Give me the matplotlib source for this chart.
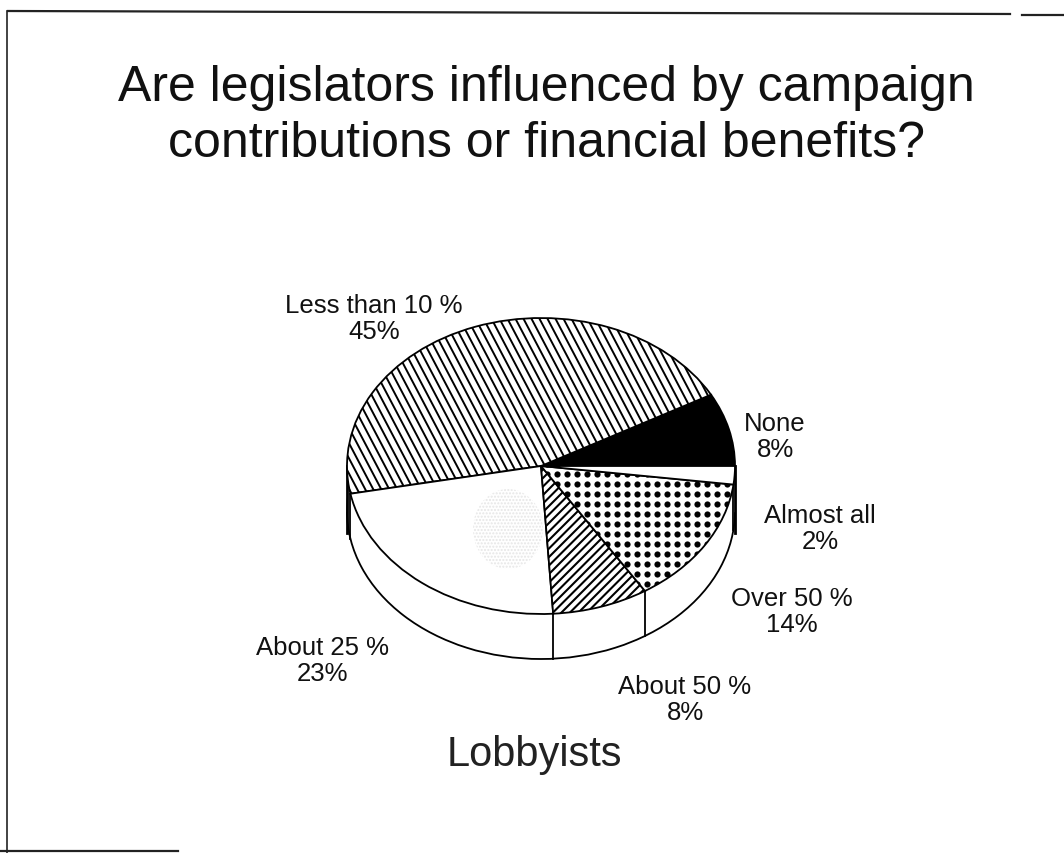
import numpy as np
import matplotlib
matplotlib.use('Agg')
import matplotlib.pyplot as plt
from matplotlib.collections import LineCollection
from matplotlib.patches import Ellipse

plt.rcParams['font.family'] = ['Liberation Sans', 'DejaVu Sans']

# Survey answers, counter-clockwise from 3 o'clock
categories = ['None', 'Less than 10 %', 'About 25 %', 'About 50 %', 'Over 50 %', 'Almost all']
shares = [8, 45, 23, 8, 14, 2]
group = 'Lobbyists'
title = 'Are legislators influenced by campaign\ncontributions or financial benefits?'

W, H = 1064, 854
CX, CY, RX, RY, DEPTH = 541, 467, 194, 148, 45
EDGE = 1.3


def px(x, y):
    # pixel position to figure fraction
    return x / W, 1 - y / H


def stripes(ax, wedge, slope, step, lw):
    # parallel lines clipped to a slice, slope and step given in pixels
    segs = []
    for x0 in np.arange(-700, 700, step):
        x = np.array([-300.0, 300.0])
        y = slope * x
        segs.append(np.column_stack([(x + x0) / RX, -y / RY]))
    lines = LineCollection(segs, colors='black', linewidths=lw, zorder=4)
    ax.add_collection(lines)
    lines.set_clip_path(wedge)


fig = plt.figure(figsize=(W / 100, H / 100), dpi=100, facecolor='white')

# axes stretched so that a unit circle comes out as the tilted pie top
ax = fig.add_axes([0, 0, 1, 1])
depth = DEPTH / RY

# side wall: lower copy of the pie plus the two straight edges
ax.pie([1], radius=1, center=(0, -depth), startangle=0, colors=['white'],
       wedgeprops=dict(edgecolor='black', linewidth=EDGE), normalize=True)
ax.fill_between([-1, 1], [0, 0], [-depth, -depth], color='white', zorder=1.5)

fills = ['black', 'white', 'white', 'white', 'white', 'white']
wedges, _ = ax.pie(shares, radius=1, center=(0, 0), startangle=0, counterclock=True,
                   colors=fills, wedgeprops=dict(edgecolor='black', linewidth=EDGE),
                   normalize=True)
for w in wedges:
    w.set_zorder(3)

ax.set_xlim(-CX / RX, (W - CX) / RX)
ax.set_ylim((CY - H) / RY, CY / RY)
ax.set_aspect('auto')
ax.axis('off')

# dividers on the wall where a slice edge falls on the front half
edges = np.cumsum(shares) / sum(shares) * 2 * np.pi
for a in edges:
    if np.sin(a) < -0.01:
        ax.plot([np.cos(a)] * 2, [np.sin(a), np.sin(a) - depth], color='black', lw=EDGE, zorder=2)
for side in (-1, 1):
    ax.plot([side, side], [0, -depth - 0.15], color='black', lw=2.0, zorder=2)

stripes(ax, wedges[1], 1.9, 8, 1.4)
stripes(ax, wedges[3], -1.0, 8.5, 1.5)

# round dots on the "Over 50 %" slice
gx, gy = np.meshgrid(np.arange(-1, 1.01, 10 / RX), np.arange(-1, 1.01, 10 / RY))
dots = ax.scatter(gx.ravel(), gy.ravel(), s=20, color='black', linewidths=0, zorder=4)
dots.set_clip_path(wedges[4])

# faint stipple in the middle of the "About 25 %" slice
stipple = Ellipse(((508 - CX) / RX, (CY - 530) / RY), 70 / RX, 80 / RY, facecolor='none',
                  edgecolor='#e6e6e6', hatch='.....', linewidth=0, zorder=3.5)
ax.add_patch(stipple)

# page frame
for xs, ys, lw in [([8, 1010], [12, 15], 1.6), ([1022, 1064], [16, 16], 1.6),
                   ([7, 7], [12, 854], 1.2), ([0, 178], [852, 852], 1.6)]:
    fig.add_artist(plt.Line2D([x / W for x in xs], [1 - y / H for y in ys],
                              color='#222222', lw=lw))

fig.text(*px(546, 116), title, ha='center', va='center', fontsize=36, linespacing=1.28,
         color='#111111')

label_pos = [(775, 437), (374, 319), (323, 661), (685, 700), (792, 612), (820, 529)]
for name, v, (x, y) in zip(categories, shares, label_pos):
    fig.text(*px(x, y), f'{name}\n{v}%', ha='center', va='center', fontsize=18.5,
             linespacing=1.12, color='#111111')

fig.text(*px(534, 755), group, ha='center', va='center', fontsize=30, color='#222222')

fig.savefig('out.png', dpi=100)
